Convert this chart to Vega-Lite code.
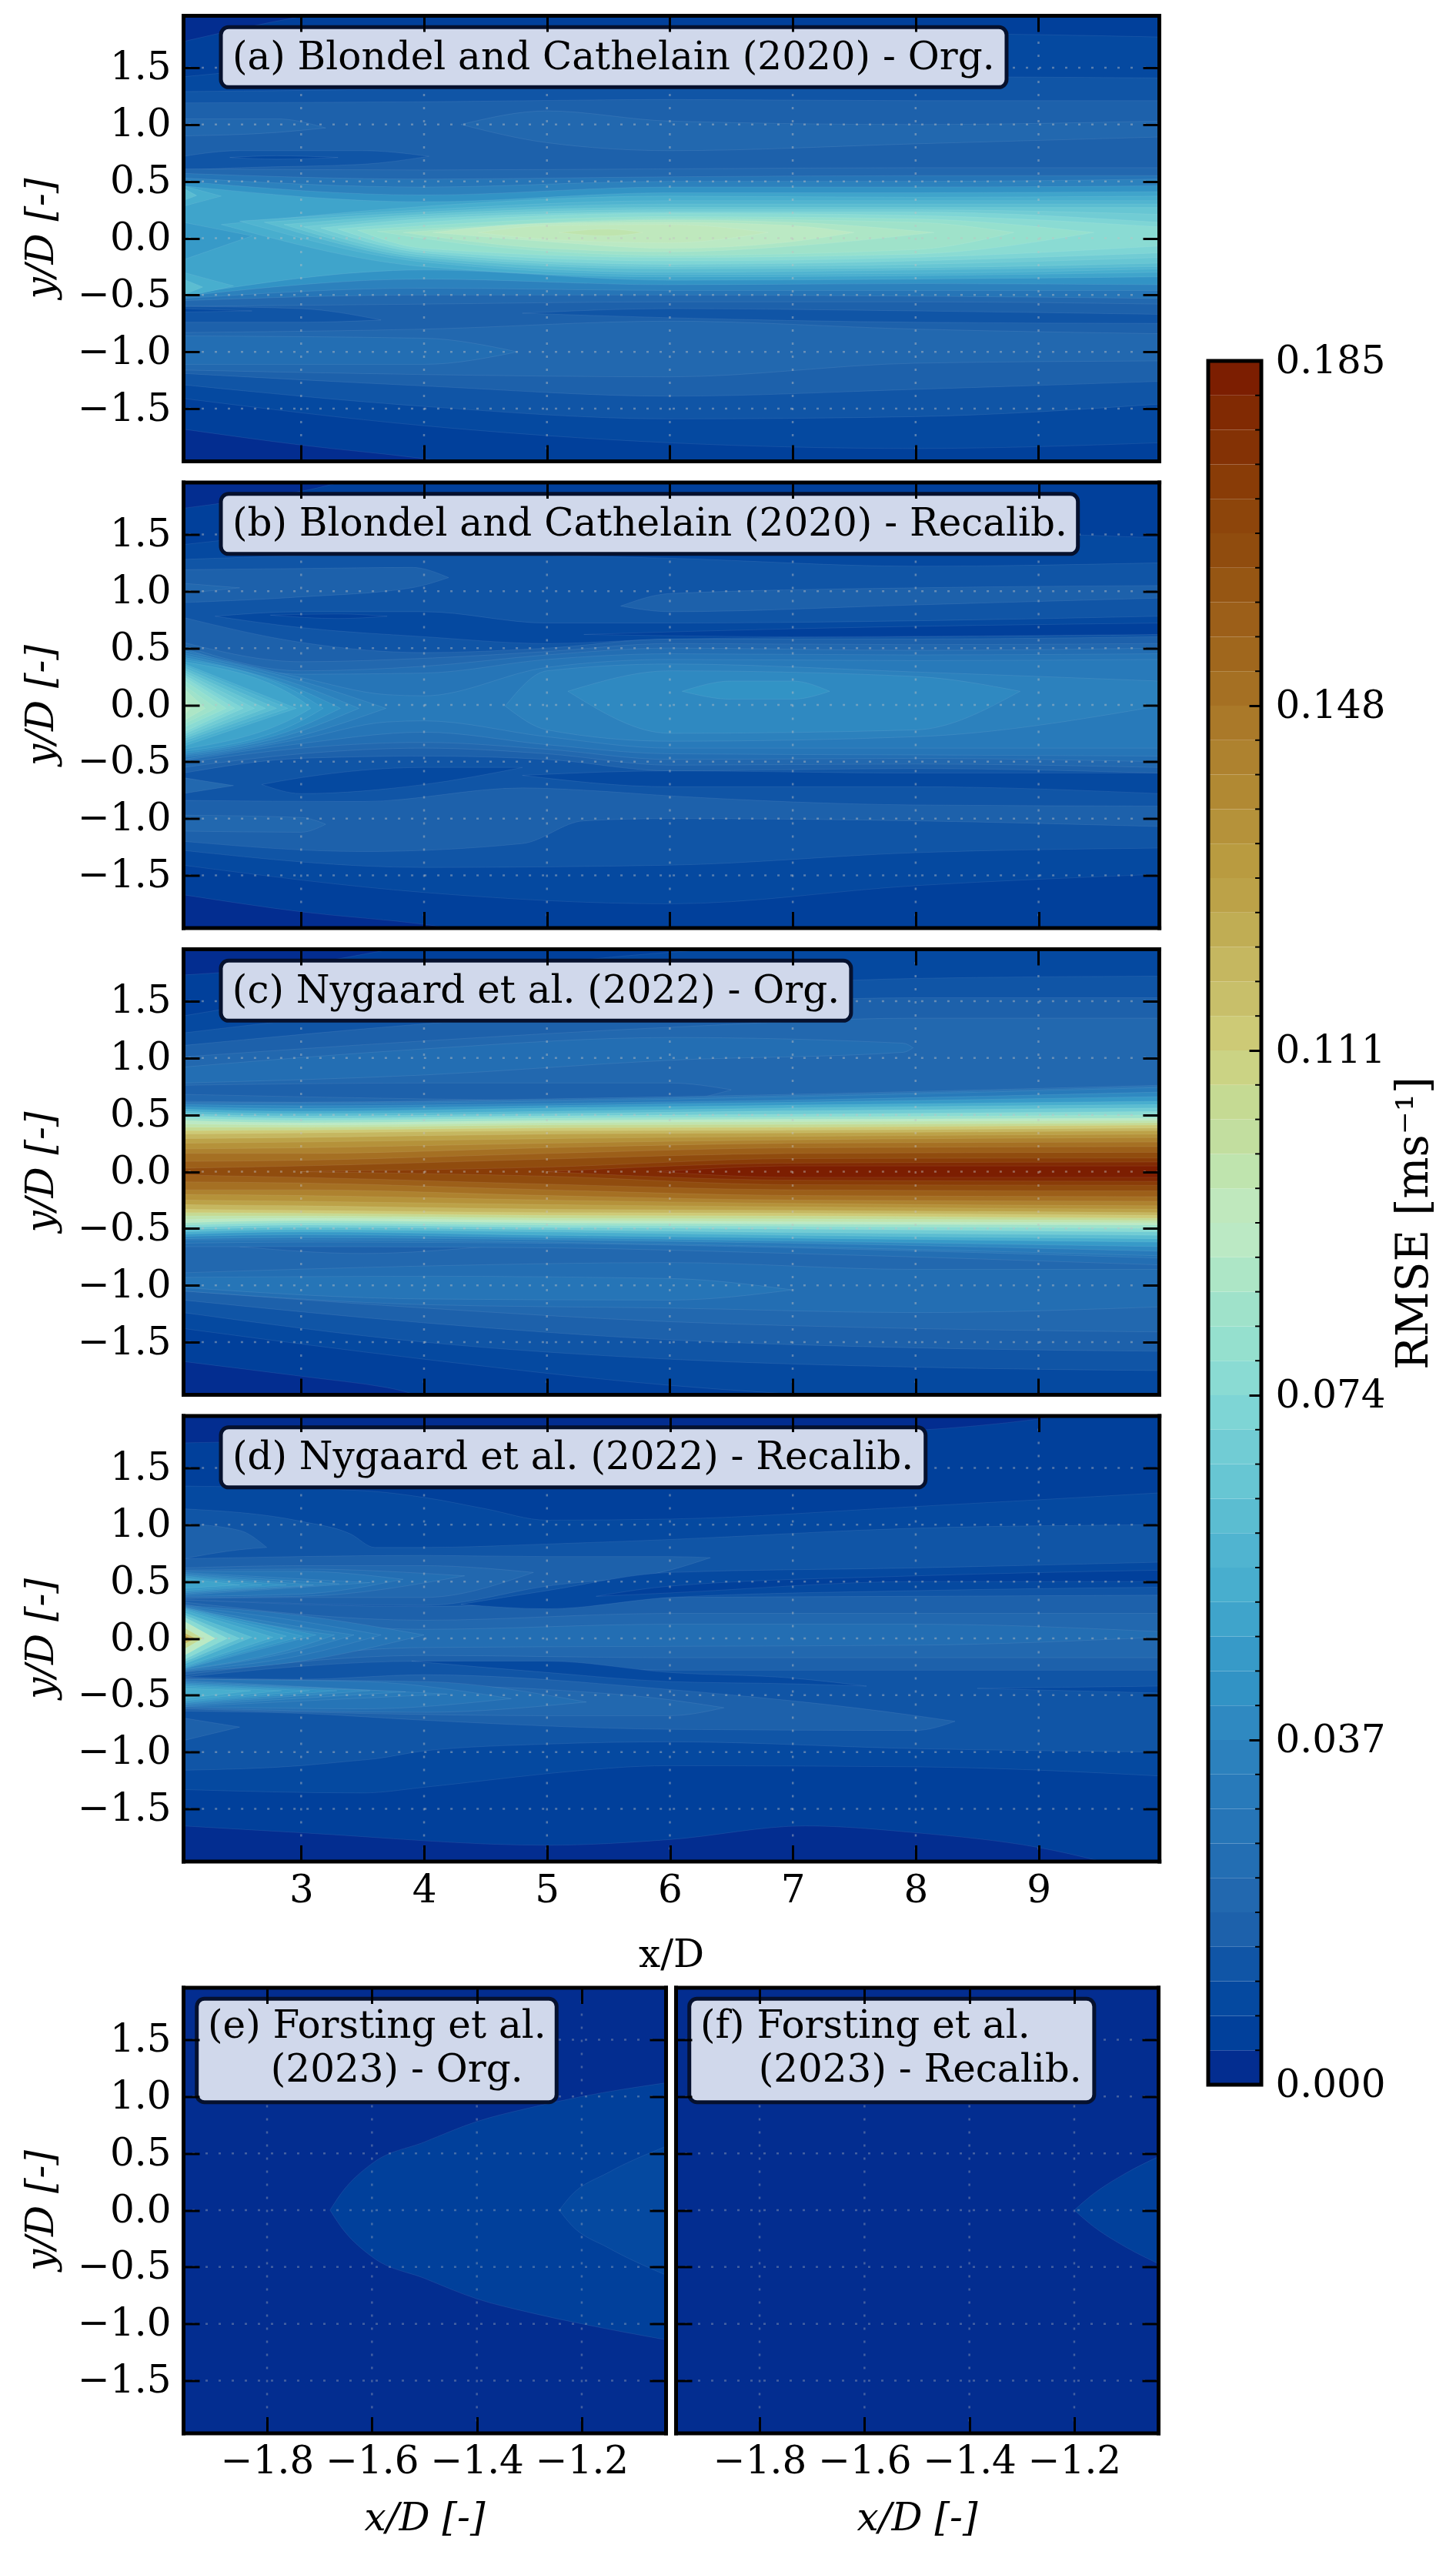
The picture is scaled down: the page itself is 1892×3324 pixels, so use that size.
{"$schema":"https://vega.github.io/schema/vega-lite/v6.json","background":"white","padding":{"left":28,"top":18,"right":12,"bottom":12},
"config":{"view":{"stroke":null},"axis":{"domainColor":"black","domainWidth":5,"domainCap":"square","tickColor":"black","tickWidth":3,"tickSize":-21,"labelFont":"DejaVu Serif","labelFontSize":50,"titleFont":"DejaVu Serif","titleFontSize":50,"titleFontWeight":"normal","grid":false,"labelColor":"black","titleColor":"black","labelOverlap":false,"labelFlush":false,"labelBound":false}},
"datasets":{
"gx":[{"x":3},{"x":4},{"x":5},{"x":6},{"x":7},{"x":8},{"x":9}],
"gy":[{"y":-1.5},{"y":-1},{"y":-0.5},{"y":0},{"y":0.5},{"y":1},{"y":1.5}],
"gz":[{"x":-1.8},{"x":-1.6},{"x":-1.4},{"x":-1.2}],
"a":[
{"g":1,"v":0,"x":2.04,"y":2.1,"y2":-2.1},{"g":1,"v":0,"x":9.98,"y":2.1,"y2":-2.1},
{"g":2,"v":0.006,"x":2.04,"y":1.73,"y2":-1.68},{"g":2,"v":0.006,"x":3,"y":1.95,"y2":-1.82},{"g":2,"v":0.006,"x":4,"y":2.1,"y2":-1.94},{"g":2,"v":0.006,"x":5,"y":2.1,"y2":-2.1},{"g":2,"v":0.006,"x":9.98,"y":2.1,"y2":-2.1},
{"g":3,"v":0.009,"x":2.04,"y":1.42,"y2":-1.41},{"g":3,"v":0.009,"x":4,"y":1.6,"y2":-1.65},{"g":3,"v":0.009,"x":6,"y":1.7,"y2":-1.8},{"g":3,"v":0.009,"x":8,"y":1.8,"y2":-1.85},{"g":3,"v":0.009,"x":9.98,"y":1.77,"y2":-1.8},
{"g":4,"v":0.013,"x":2.04,"y":1.29,"y2":-1.29},{"g":4,"v":0.013,"x":4,"y":1.32,"y2":-1.48},{"g":4,"v":0.013,"x":6,"y":1.4,"y2":-1.59},{"g":4,"v":0.013,"x":8,"y":1.42,"y2":-1.57},{"g":4,"v":0.013,"x":9.98,"y":1.41,"y2":-1.46},
{"g":5,"v":0.017,"x":2.04,"y":1.19,"y2":-1.19},{"g":5,"v":0.017,"x":4,"y":1.2,"y2":-1.3},{"g":5,"v":0.017,"x":6,"y":1.22,"y2":-1.39},{"g":5,"v":0.017,"x":8,"y":1.21,"y2":-1.33},{"g":5,"v":0.017,"x":9.98,"y":1.21,"y2":-1.26},
{"g":6,"v":0.013,"x":2.04,"y":0.72,"y2":0.6},{"g":6,"v":0.013,"x":2.5,"y":0.77,"y2":0.62},{"g":6,"v":0.013,"x":3.5,"y":0.77,"y2":0.65},{"g":6,"v":0.013,"x":4.04,"y":0.72,"y2":0.72},
{"g":7,"v":0.009,"x":2.42,"y":0.71,"y2":0.71},{"g":7,"v":0.009,"x":2.8,"y":0.725,"y2":0.695},{"g":7,"v":0.009,"x":3.3,"y":0.71,"y2":0.71},
{"g":8,"v":0.013,"x":2.04,"y":-0.6,"y2":-0.74},{"g":8,"v":0.013,"x":3,"y":-0.62,"y2":-0.74},{"g":8,"v":0.013,"x":3.65,"y":-0.72,"y2":-0.72},
{"g":9,"v":0.009,"x":2.04,"y":-0.62,"y2":-0.65},{"g":9,"v":0.009,"x":2.6,"y":-0.64,"y2":-0.64},
{"g":10,"v":0.013,"x":4.8,"y":-0.66,"y2":-0.66},{"g":10,"v":0.013,"x":6,"y":-0.62,"y2":-0.7},{"g":10,"v":0.013,"x":8,"y":-0.64,"y2":-0.74},{"g":10,"v":0.013,"x":9.98,"y":-0.67,"y2":-0.75},
{"g":11,"v":0.02,"x":2.04,"y":1.05,"y2":0.9},{"g":11,"v":0.02,"x":2.8,"y":1.05,"y2":0.93},{"g":11,"v":0.02,"x":3.2,"y":0.97,"y2":0.97},
{"g":12,"v":0.02,"x":4.3,"y":1,"y2":1},{"g":12,"v":0.02,"x":5,"y":1.12,"y2":0.84},{"g":12,"v":0.02,"x":6,"y":1.03,"y2":0.77},{"g":12,"v":0.02,"x":8,"y":1,"y2":0.83},{"g":12,"v":0.02,"x":9.98,"y":1.03,"y2":0.89},
{"g":13,"v":0.02,"x":2.04,"y":-0.83,"y2":-1.16},{"g":13,"v":0.02,"x":4,"y":-0.8,"y2":-1.2},{"g":13,"v":0.02,"x":6,"y":-0.73,"y2":-1.22},{"g":13,"v":0.02,"x":8,"y":-0.8,"y2":-1.1},{"g":13,"v":0.02,"x":9.98,"y":-0.84,"y2":-1.08},
{"g":14,"v":0.024,"x":2.04,"y":-0.86,"y2":-1.11},{"g":14,"v":0.024,"x":4,"y":-0.88,"y2":-1.11},{"g":14,"v":0.024,"x":4.76,"y":-1,"y2":-1},
{"g":15,"v":0.02,"x":2.04,"y":0.61,"y2":-0.6},{"g":15,"v":0.02,"x":4,"y":0.6,"y2":-0.58},{"g":15,"v":0.02,"x":6,"y":0.61,"y2":-0.56},{"g":15,"v":0.02,"x":8,"y":0.62,"y2":-0.56},{"g":15,"v":0.02,"x":9.98,"y":0.62,"y2":-0.58},
{"g":16,"v":0.028,"x":2.04,"y":0.57,"y2":-0.55},{"g":16,"v":0.028,"x":4,"y":0.52,"y2":-0.5},{"g":16,"v":0.028,"x":6,"y":0.54,"y2":-0.5},{"g":16,"v":0.028,"x":8,"y":0.55,"y2":-0.51},{"g":16,"v":0.028,"x":9.98,"y":0.55,"y2":-0.53},
{"g":17,"v":0.035,"x":2.04,"y":0.53,"y2":-0.53},{"g":17,"v":0.035,"x":4,"y":0.45,"y2":-0.44},{"g":17,"v":0.035,"x":6,"y":0.5,"y2":-0.46},{"g":17,"v":0.035,"x":8,"y":0.5,"y2":-0.46},{"g":17,"v":0.035,"x":9.98,"y":0.52,"y2":-0.46},
{"g":18,"v":0.043,"x":2.04,"y":0.5,"y2":-0.51},{"g":18,"v":0.043,"x":4,"y":0.38,"y2":-0.36},{"g":18,"v":0.043,"x":6,"y":0.45,"y2":-0.41},{"g":18,"v":0.043,"x":8,"y":0.45,"y2":-0.4},{"g":18,"v":0.043,"x":9.98,"y":0.46,"y2":-0.41},
{"g":19,"v":0.05,"x":2.04,"y":0.46,"y2":-0.5},{"g":19,"v":0.05,"x":4,"y":0.32,"y2":-0.28},{"g":19,"v":0.05,"x":6,"y":0.4,"y2":-0.37},{"g":19,"v":0.05,"x":8,"y":0.4,"y2":-0.36},{"g":19,"v":0.05,"x":9.98,"y":0.41,"y2":-0.34},
{"g":20,"v":0.046,"x":2.04,"y":0.14,"y2":-0.19},{"g":20,"v":0.046,"x":2.6,"y":0.02,"y2":0.02},
{"g":21,"v":0.054,"x":2.04,"y":0.46,"y2":0.28},{"g":21,"v":0.054,"x":2.35,"y":0.37,"y2":0.37},
{"g":22,"v":0.061,"x":2.04,"y":0.44,"y2":0.33},{"g":22,"v":0.061,"x":2.15,"y":0.375,"y2":0.375},
{"g":23,"v":0.054,"x":2.04,"y":-0.3,"y2":-0.52},{"g":23,"v":0.054,"x":2.45,"y":-0.42,"y2":-0.42},
{"g":24,"v":0.061,"x":2.04,"y":-0.36,"y2":-0.5},{"g":24,"v":0.061,"x":2.2,"y":-0.43,"y2":-0.43},
{"g":25,"v":0.054,"x":2.35,"y":0.12,"y2":0.12},{"g":25,"v":0.054,"x":4,"y":0.28,"y2":-0.25},{"g":25,"v":0.054,"x":6,"y":0.37,"y2":-0.34},{"g":25,"v":0.054,"x":8,"y":0.36,"y2":-0.33},{"g":25,"v":0.054,"x":9.98,"y":0.37,"y2":-0.3},
{"g":26,"v":0.057,"x":2.5,"y":0.15,"y2":0.15},{"g":26,"v":0.057,"x":4,"y":0.25,"y2":-0.21},{"g":26,"v":0.057,"x":6,"y":0.33,"y2":-0.32},{"g":26,"v":0.057,"x":8,"y":0.33,"y2":-0.31},{"g":26,"v":0.057,"x":9.98,"y":0.33,"y2":-0.27},
{"g":27,"v":0.061,"x":2.7,"y":0.14,"y2":0.14},{"g":27,"v":0.061,"x":4,"y":0.23,"y2":-0.19},{"g":27,"v":0.061,"x":6,"y":0.3,"y2":-0.3},{"g":27,"v":0.061,"x":8,"y":0.3,"y2":-0.28},{"g":27,"v":0.061,"x":9.98,"y":0.3,"y2":-0.25},
{"g":28,"v":0.065,"x":2.86,"y":0.12,"y2":0.12},{"g":28,"v":0.065,"x":4,"y":0.21,"y2":-0.17},{"g":28,"v":0.065,"x":6,"y":0.27,"y2":-0.27},{"g":28,"v":0.065,"x":8,"y":0.27,"y2":-0.26},{"g":28,"v":0.065,"x":9.98,"y":0.27,"y2":-0.22},
{"g":29,"v":0.068,"x":3.02,"y":0.1,"y2":0.1},{"g":29,"v":0.068,"x":4,"y":0.19,"y2":-0.15},{"g":29,"v":0.068,"x":6,"y":0.25,"y2":-0.25},{"g":29,"v":0.068,"x":8,"y":0.25,"y2":-0.23},{"g":29,"v":0.068,"x":9.98,"y":0.21,"y2":-0.17},
{"g":30,"v":0.072,"x":3.16,"y":0.09,"y2":0.09},{"g":30,"v":0.072,"x":4,"y":0.17,"y2":-0.13},{"g":30,"v":0.072,"x":6,"y":0.23,"y2":-0.23},{"g":30,"v":0.072,"x":8,"y":0.23,"y2":-0.2},{"g":30,"v":0.072,"x":9.98,"y":0.14,"y2":-0.13},
{"g":31,"v":0.076,"x":3.3,"y":0.08,"y2":0.08},{"g":31,"v":0.076,"x":4,"y":0.14,"y2":-0.11},{"g":31,"v":0.076,"x":6,"y":0.22,"y2":-0.2},{"g":31,"v":0.076,"x":8,"y":0.2,"y2":-0.17},{"g":31,"v":0.076,"x":9.98,"y":0.1,"y2":-0.07},
{"g":32,"v":0.08,"x":3.46,"y":0.07,"y2":0.07},{"g":32,"v":0.08,"x":4,"y":0.11,"y2":-0.09},{"g":32,"v":0.08,"x":6,"y":0.19,"y2":-0.17},{"g":32,"v":0.08,"x":8,"y":0.17,"y2":-0.14},{"g":32,"v":0.08,"x":9.45,"y":0.05,"y2":0.05},
{"g":33,"v":0.083,"x":3.62,"y":0.06,"y2":0.06},{"g":33,"v":0.083,"x":4.5,"y":0.11,"y2":-0.07},{"g":33,"v":0.083,"x":6,"y":0.17,"y2":-0.15},{"g":33,"v":0.083,"x":8,"y":0.14,"y2":-0.1},{"g":33,"v":0.083,"x":8.8,"y":0.05,"y2":0.05},
{"g":34,"v":0.087,"x":3.83,"y":0.05,"y2":0.05},{"g":34,"v":0.087,"x":5,"y":0.13,"y2":-0.09},{"g":34,"v":0.087,"x":6,"y":0.16,"y2":-0.12},{"g":34,"v":0.087,"x":7,"y":0.14,"y2":-0.07},{"g":34,"v":0.087,"x":8.15,"y":0.05,"y2":0.05},
{"g":35,"v":0.091,"x":4.07,"y":0.05,"y2":0.05},{"g":35,"v":0.091,"x":5,"y":0.13,"y2":-0.03},{"g":35,"v":0.091,"x":6,"y":0.14,"y2":-0.09},{"g":35,"v":0.091,"x":7,"y":0.11,"y2":-0.03},{"g":35,"v":0.091,"x":7.5,"y":0.05,"y2":0.05},
{"g":36,"v":0.094,"x":4.44,"y":0.05,"y2":0.05},{"g":36,"v":0.094,"x":5,"y":0.11,"y2":-0.01},{"g":36,"v":0.094,"x":6,"y":0.12,"y2":-0.04},{"g":36,"v":0.094,"x":6.8,"y":0.05,"y2":0.05},
{"g":37,"v":0.098,"x":5.1,"y":0.05,"y2":0.05},{"g":37,"v":0.098,"x":5.5,"y":0.08,"y2":0.02},{"g":37,"v":0.098,"x":5.78,"y":0.05,"y2":0.05}
],
"b":[
{"g":1,"v":0,"x":2.04,"y":2.1,"y2":-2.1},{"g":1,"v":0,"x":9.98,"y":2.1,"y2":-2.1},
{"g":2,"v":0.006,"x":2.04,"y":1.73,"y2":-1.67},{"g":2,"v":0.006,"x":3,"y":1.88,"y2":-1.82},{"g":2,"v":0.006,"x":4,"y":2.1,"y2":-1.93},{"g":2,"v":0.006,"x":5,"y":2.1,"y2":-2.1},{"g":2,"v":0.006,"x":9.98,"y":2.1,"y2":-2.1},
{"g":3,"v":0.009,"x":2.04,"y":1.41,"y2":-1.41},{"g":3,"v":0.009,"x":4,"y":1.6,"y2":-1.65},{"g":3,"v":0.009,"x":6,"y":1.65,"y2":-1.75},{"g":3,"v":0.009,"x":8,"y":1.55,"y2":-1.59},{"g":3,"v":0.009,"x":9.98,"y":1.47,"y2":-1.49},
{"g":4,"v":0.013,"x":2.04,"y":1.28,"y2":-1.28},{"g":4,"v":0.013,"x":4,"y":1.33,"y2":-1.43},{"g":4,"v":0.013,"x":6,"y":1.29,"y2":-1.41},{"g":4,"v":0.013,"x":8,"y":1.22,"y2":-1.3},{"g":4,"v":0.013,"x":9.98,"y":1.25,"y2":-1.26},
{"g":5,"v":0.017,"x":2.04,"y":1.19,"y2":0.9},{"g":5,"v":0.017,"x":3,"y":1.2,"y2":0.95},{"g":5,"v":0.017,"x":3.9,"y":1.21,"y2":1.03},{"g":5,"v":0.017,"x":4.2,"y":1.12,"y2":1.12},
{"g":6,"v":0.02,"x":2.04,"y":1.07,"y2":0.98},{"g":6,"v":0.02,"x":2.5,"y":1.03,"y2":1.03},
{"g":7,"v":0.017,"x":5.6,"y":0.87,"y2":0.87},{"g":7,"v":0.017,"x":6,"y":0.98,"y2":0.82},{"g":7,"v":0.017,"x":8,"y":1.03,"y2":0.88},{"g":7,"v":0.017,"x":9.98,"y":1.05,"y2":0.94},
{"g":8,"v":0.017,"x":2.04,"y":-0.84,"y2":-1.2},{"g":8,"v":0.017,"x":3.5,"y":-0.85,"y2":-1.29},{"g":8,"v":0.017,"x":4.8,"y":-0.73,"y2":-1.22},{"g":8,"v":0.017,"x":5.3,"y":-0.75,"y2":-1.02},{"g":8,"v":0.017,"x":6,"y":-0.8,"y2":-1},{"g":8,"v":0.017,"x":8,"y":-0.88,"y2":-1.02},{"g":8,"v":0.017,"x":9.98,"y":-0.89,"y2":-1.07},
{"g":9,"v":0.02,"x":2.04,"y":-0.97,"y2":-1.11},{"g":9,"v":0.02,"x":3,"y":-0.99,"y2":-1.12},{"g":9,"v":0.02,"x":3.2,"y":-1.05,"y2":-1.05},
{"g":10,"v":0.02,"x":2.04,"y":-0.64,"y2":-0.78},{"g":10,"v":0.02,"x":2.45,"y":-0.71,"y2":-0.71},
{"g":11,"v":0.009,"x":2.3,"y":0.78,"y2":0.78},{"g":11,"v":0.009,"x":3,"y":0.82,"y2":0.68},{"g":11,"v":0.009,"x":4,"y":0.82,"y2":0.6},{"g":11,"v":0.009,"x":5,"y":0.72,"y2":0.54},{"g":11,"v":0.009,"x":6,"y":0.72,"y2":0.58},{"g":11,"v":0.009,"x":8,"y":0.74,"y2":0.6},{"g":11,"v":0.009,"x":9.98,"y":0.78,"y2":0.62},
{"g":12,"v":0.006,"x":2.75,"y":0.79,"y2":0.79},{"g":12,"v":0.006,"x":3.3,"y":0.8,"y2":0.76},{"g":12,"v":0.006,"x":3.7,"y":0.78,"y2":0.78},
{"g":13,"v":0.006,"x":5.3,"y":0.62,"y2":0.62},{"g":13,"v":0.006,"x":7,"y":0.67,"y2":0.6},{"g":13,"v":0.006,"x":9.98,"y":0.72,"y2":0.62},
{"g":14,"v":0.009,"x":2.68,"y":-0.7,"y2":-0.7},{"g":14,"v":0.009,"x":3,"y":-0.64,"y2":-0.78},{"g":14,"v":0.009,"x":4,"y":-0.55,"y2":-0.7},{"g":14,"v":0.009,"x":4.8,"y":-0.55,"y2":-0.55},
{"g":15,"v":0.009,"x":4.8,"y":-0.62,"y2":-0.62},{"g":15,"v":0.009,"x":6,"y":-0.58,"y2":-0.72},{"g":15,"v":0.009,"x":8,"y":-0.6,"y2":-0.72},{"g":15,"v":0.009,"x":9.98,"y":-0.6,"y2":-0.78},
{"g":17,"v":0.017,"x":2.04,"y":0.77,"y2":-0.6},{"g":17,"v":0.017,"x":3,"y":0.55,"y2":-0.47},{"g":17,"v":0.017,"x":4,"y":0.46,"y2":-0.45},{"g":17,"v":0.017,"x":5,"y":0.5,"y2":-0.48},{"g":17,"v":0.017,"x":6,"y":0.58,"y2":-0.58},{"g":17,"v":0.017,"x":8,"y":0.58,"y2":-0.56},{"g":17,"v":0.017,"x":9.98,"y":0.6,"y2":-0.6},
{"g":18,"v":0.02,"x":2.04,"y":0.55,"y2":-0.55},{"g":18,"v":0.02,"x":3,"y":0.38,"y2":-0.43},{"g":18,"v":0.02,"x":4,"y":0.41,"y2":-0.38},{"g":18,"v":0.02,"x":5,"y":0.47,"y2":-0.43},{"g":18,"v":0.02,"x":6,"y":0.54,"y2":-0.53},{"g":18,"v":0.02,"x":8,"y":0.53,"y2":-0.52},{"g":18,"v":0.02,"x":9.98,"y":0.54,"y2":-0.55},
{"g":19,"v":0.024,"x":2.04,"y":0.52,"y2":-0.51},{"g":19,"v":0.024,"x":3,"y":0.3,"y2":-0.38},{"g":19,"v":0.024,"x":4,"y":0.34,"y2":-0.33},{"g":19,"v":0.024,"x":5,"y":0.44,"y2":-0.39},{"g":19,"v":0.024,"x":6,"y":0.5,"y2":-0.48},{"g":19,"v":0.024,"x":8,"y":0.48,"y2":-0.47},{"g":19,"v":0.024,"x":9.98,"y":0.5,"y2":-0.5},
{"g":20,"v":0.028,"x":2.04,"y":0.5,"y2":-0.49},{"g":20,"v":0.028,"x":3,"y":0.27,"y2":-0.34},{"g":20,"v":0.028,"x":4,"y":0.28,"y2":-0.24},{"g":20,"v":0.028,"x":5,"y":0.4,"y2":-0.35},{"g":20,"v":0.028,"x":6,"y":0.45,"y2":-0.43},{"g":20,"v":0.028,"x":8,"y":0.44,"y2":-0.44},{"g":20,"v":0.028,"x":9.98,"y":0.45,"y2":-0.45},
{"g":21,"v":0.031,"x":2.04,"y":0.48,"y2":-0.48},{"g":21,"v":0.031,"x":3,"y":0.24,"y2":-0.3},{"g":21,"v":0.031,"x":3.7,"y":0.09,"y2":-0.15},{"g":21,"v":0.031,"x":4,"y":0.08,"y2":-0.14},{"g":21,"v":0.031,"x":5,"y":0.33,"y2":-0.28},{"g":21,"v":0.031,"x":6,"y":0.4,"y2":-0.38},{"g":21,"v":0.031,"x":8,"y":0.39,"y2":-0.38},{"g":21,"v":0.031,"x":9.98,"y":0.4,"y2":-0.38},
{"g":22,"v":0.035,"x":2.04,"y":0.46,"y2":-0.46},{"g":22,"v":0.035,"x":3,"y":0.21,"y2":-0.27},{"g":22,"v":0.035,"x":3.69,"y":-0.03,"y2":-0.03},
{"g":23,"v":0.035,"x":4.66,"y":-0.01,"y2":-0.01},{"g":23,"v":0.035,"x":5,"y":0.3,"y2":-0.22},{"g":23,"v":0.035,"x":6,"y":0.36,"y2":-0.32},{"g":23,"v":0.035,"x":8,"y":0.29,"y2":-0.28},{"g":23,"v":0.035,"x":9.98,"y":0.21,"y2":-0.01},
{"g":24,"v":0.039,"x":5.17,"y":0.12,"y2":0.12},{"g":24,"v":0.039,"x":6,"y":0.3,"y2":-0.25},{"g":24,"v":0.039,"x":8,"y":0.25,"y2":-0.22},{"g":24,"v":0.039,"x":8.85,"y":0.12,"y2":0.12},
{"g":25,"v":0.043,"x":6.1,"y":0.12,"y2":0.12},{"g":25,"v":0.043,"x":6.5,"y":0.21,"y2":0.05},{"g":25,"v":0.043,"x":7,"y":0.21,"y2":0.05},{"g":25,"v":0.043,"x":7.3,"y":0.12,"y2":0.12},
{"g":26,"v":0.039,"x":2.04,"y":0.44,"y2":-0.445},{"g":26,"v":0.039,"x":3,"y":0.17,"y2":-0.23},{"g":26,"v":0.039,"x":3.47,"y":-0.03,"y2":-0.03},
{"g":27,"v":0.043,"x":2.04,"y":0.42,"y2":-0.43},{"g":27,"v":0.043,"x":3,"y":0.13,"y2":-0.19},{"g":27,"v":0.043,"x":3.32,"y":-0.03,"y2":-0.03},
{"g":28,"v":0.046,"x":2.04,"y":0.4,"y2":-0.41},{"g":28,"v":0.046,"x":3,"y":0.09,"y2":-0.14},{"g":28,"v":0.046,"x":3.18,"y":-0.03,"y2":-0.03},
{"g":29,"v":0.05,"x":2.04,"y":0.38,"y2":-0.39},{"g":29,"v":0.05,"x":3,"y":0.04,"y2":-0.08},{"g":29,"v":0.05,"x":3.08,"y":-0.03,"y2":-0.03},
{"g":30,"v":0.054,"x":2.04,"y":0.365,"y2":-0.365},{"g":30,"v":0.054,"x":2.96,"y":-0.03,"y2":-0.03},
{"g":31,"v":0.057,"x":2.04,"y":0.35,"y2":-0.34},{"g":31,"v":0.057,"x":2.89,"y":-0.03,"y2":-0.03},
{"g":32,"v":0.061,"x":2.04,"y":0.33,"y2":-0.32},{"g":32,"v":0.061,"x":2.8,"y":-0.03,"y2":-0.03},
{"g":33,"v":0.065,"x":2.04,"y":0.31,"y2":-0.3},{"g":33,"v":0.065,"x":2.71,"y":-0.03,"y2":-0.03},
{"g":34,"v":0.068,"x":2.04,"y":0.29,"y2":-0.28},{"g":34,"v":0.068,"x":2.62,"y":-0.03,"y2":-0.03},
{"g":35,"v":0.072,"x":2.04,"y":0.27,"y2":-0.26},{"g":35,"v":0.072,"x":2.53,"y":-0.03,"y2":-0.03},
{"g":36,"v":0.076,"x":2.04,"y":0.25,"y2":-0.24},{"g":36,"v":0.076,"x":2.46,"y":-0.03,"y2":-0.03},
{"g":37,"v":0.08,"x":2.04,"y":0.22,"y2":-0.2},{"g":37,"v":0.08,"x":2.39,"y":-0.03,"y2":-0.03},
{"g":38,"v":0.083,"x":2.04,"y":0.18,"y2":-0.17},{"g":38,"v":0.083,"x":2.31,"y":-0.03,"y2":-0.03},
{"g":39,"v":0.087,"x":2.04,"y":0.15,"y2":-0.14},{"g":39,"v":0.087,"x":2.22,"y":-0.03,"y2":-0.03},
{"g":40,"v":0.091,"x":2.04,"y":0.08,"y2":-0.1},{"g":40,"v":0.091,"x":2.1,"y":-0.03,"y2":-0.03}
],
"c":[
{"g":1,"v":0,"x":2.04,"y":2.1,"y2":-2.1},{"g":1,"v":0,"x":9.98,"y":2.1,"y2":-2.1},
{"g":2,"v":0.006,"x":2.04,"y":1.73,"y2":-1.67},{"g":2,"v":0.006,"x":3,"y":1.82,"y2":-1.8},{"g":2,"v":0.006,"x":3.7,"y":1.95,"y2":-1.9},{"g":2,"v":0.006,"x":4.5,"y":2.1,"y2":-2.1},{"g":2,"v":0.006,"x":9.98,"y":2.1,"y2":-2.1},
{"g":3,"v":0.009,"x":2.04,"y":1.37,"y2":-1.38},{"g":3,"v":0.009,"x":4,"y":1.7,"y2":-1.65},{"g":3,"v":0.009,"x":6,"y":1.93,"y2":-1.88},{"g":3,"v":0.009,"x":7.7,"y":2.02,"y2":-2},{"g":3,"v":0.009,"x":9.98,"y":2.1,"y2":-2.1},
{"g":4,"v":0.013,"x":2.04,"y":1.22,"y2":-1.24},{"g":4,"v":0.013,"x":4,"y":1.45,"y2":-1.5},{"g":4,"v":0.013,"x":6,"y":1.6,"y2":-1.65},{"g":4,"v":0.013,"x":8,"y":1.7,"y2":-1.72},{"g":4,"v":0.013,"x":9.98,"y":1.72,"y2":-1.75},
{"g":5,"v":0.017,"x":2.04,"y":1.11,"y2":-1.13},{"g":5,"v":0.017,"x":4,"y":1.3,"y2":-1.33},{"g":5,"v":0.017,"x":6,"y":1.45,"y2":-1.48},{"g":5,"v":0.017,"x":8,"y":1.53,"y2":-1.55},{"g":5,"v":0.017,"x":9.98,"y":1.53,"y2":-1.58},
{"g":6,"v":0.02,"x":2.04,"y":1.01,"y2":-1.05},{"g":6,"v":0.02,"x":4,"y":1.15,"y2":-1.2},{"g":6,"v":0.02,"x":6,"y":1.27,"y2":-1.32},{"g":6,"v":0.02,"x":8,"y":1.35,"y2":-1.38},{"g":6,"v":0.02,"x":9.98,"y":1.35,"y2":-1.41},
{"g":7,"v":0.017,"x":2.04,"y":0.76,"y2":0.68},{"g":7,"v":0.017,"x":4,"y":0.78,"y2":0.64},{"g":7,"v":0.017,"x":6,"y":0.78,"y2":0.62},{"g":7,"v":0.017,"x":6.5,"y":0.72,"y2":0.72},
{"g":8,"v":0.017,"x":2.5,"y":-0.66,"y2":-0.66},{"g":8,"v":0.017,"x":3.5,"y":-0.64,"y2":-0.72},{"g":8,"v":0.017,"x":4.5,"y":-0.66,"y2":-0.66},
{"g":9,"v":0.024,"x":2.04,"y":0.92,"y2":0.78},{"g":9,"v":0.024,"x":4,"y":1.08,"y2":0.85},{"g":9,"v":0.024,"x":6,"y":1.18,"y2":0.98},{"g":9,"v":0.024,"x":7.9,"y":1.13,"y2":1.05},{"g":9,"v":0.024,"x":7.98,"y":1.09,"y2":1.09},
{"g":10,"v":0.024,"x":2.04,"y":-0.89,"y2":-1.05},{"g":10,"v":0.024,"x":4,"y":-0.83,"y2":-1.17},{"g":10,"v":0.024,"x":6,"y":-0.8,"y2":-1.2},{"g":10,"v":0.024,"x":8,"y":-0.86,"y2":-1.24},{"g":10,"v":0.024,"x":9.98,"y":-0.86,"y2":-1.19},
{"g":11,"v":0.028,"x":2.04,"y":-0.93,"y2":-1.02},{"g":11,"v":0.028,"x":4,"y":-0.92,"y2":-1.12},{"g":11,"v":0.028,"x":6,"y":-0.94,"y2":-1.13},{"g":11,"v":0.028,"x":7,"y":-1.04,"y2":-1.04},
{"g":12,"v":0.024,"x":2.04,"y":0.62,"y2":-0.66},{"g":12,"v":0.024,"x":3,"y":0.61,"y2":-0.66},{"g":12,"v":0.024,"x":5,"y":0.64,"y2":-0.67},{"g":12,"v":0.024,"x":7,"y":0.68,"y2":-0.72},{"g":12,"v":0.024,"x":9.98,"y":0.76,"y2":-0.82},
{"g":13,"v":0.028,"x":2.04,"y":0.61,"y2":-0.63},{"g":13,"v":0.028,"x":3,"y":0.61,"y2":-0.62},{"g":13,"v":0.028,"x":5,"y":0.63,"y2":-0.63},{"g":13,"v":0.028,"x":7,"y":0.67,"y2":-0.67},{"g":13,"v":0.028,"x":9.98,"y":0.75,"y2":-0.76},
{"g":14,"v":0.031,"x":2.04,"y":0.6,"y2":-0.6},{"g":14,"v":0.031,"x":3,"y":0.6,"y2":-0.6},{"g":14,"v":0.031,"x":5,"y":0.62,"y2":-0.62},{"g":14,"v":0.031,"x":7,"y":0.66,"y2":-0.66},{"g":14,"v":0.031,"x":9.98,"y":0.74,"y2":-0.74},
{"g":15,"v":0.039,"x":2.04,"y":0.59,"y2":-0.59},{"g":15,"v":0.039,"x":3,"y":0.58,"y2":-0.58},{"g":15,"v":0.039,"x":5,"y":0.6,"y2":-0.6},{"g":15,"v":0.039,"x":7,"y":0.63,"y2":-0.63},{"g":15,"v":0.039,"x":9.98,"y":0.7,"y2":-0.7},
{"g":16,"v":0.046,"x":2.04,"y":0.57,"y2":-0.57},{"g":16,"v":0.046,"x":3,"y":0.555,"y2":-0.555},{"g":16,"v":0.046,"x":5,"y":0.58,"y2":-0.58},{"g":16,"v":0.046,"x":7,"y":0.61,"y2":-0.61},{"g":16,"v":0.046,"x":9.98,"y":0.66,"y2":-0.66},
{"g":17,"v":0.054,"x":2.04,"y":0.55,"y2":-0.55},{"g":17,"v":0.054,"x":3,"y":0.53,"y2":-0.53},{"g":17,"v":0.054,"x":5,"y":0.56,"y2":-0.56},{"g":17,"v":0.054,"x":7,"y":0.585,"y2":-0.585},{"g":17,"v":0.054,"x":9.98,"y":0.62,"y2":-0.62},
{"g":18,"v":0.061,"x":2.04,"y":0.53,"y2":-0.53},{"g":18,"v":0.061,"x":3,"y":0.51,"y2":-0.51},{"g":18,"v":0.061,"x":5,"y":0.53,"y2":-0.53},{"g":18,"v":0.061,"x":7,"y":0.56,"y2":-0.56},{"g":18,"v":0.061,"x":9.98,"y":0.59,"y2":-0.59},
{"g":19,"v":0.068,"x":2.04,"y":0.51,"y2":-0.51},{"g":19,"v":0.068,"x":3,"y":0.49,"y2":-0.49},{"g":19,"v":0.068,"x":5,"y":0.51,"y2":-0.51},{"g":19,"v":0.068,"x":7,"y":0.535,"y2":-0.535},{"g":19,"v":0.068,"x":9.98,"y":0.56,"y2":-0.56},
{"g":20,"v":0.076,"x":2.04,"y":0.49,"y2":-0.49},{"g":20,"v":0.076,"x":3,"y":0.47,"y2":-0.47},{"g":20,"v":0.076,"x":5,"y":0.49,"y2":-0.49},{"g":20,"v":0.076,"x":7,"y":0.505,"y2":-0.505},{"g":20,"v":0.076,"x":9.98,"y":0.53,"y2":-0.53},
{"g":21,"v":0.083,"x":2.04,"y":0.47,"y2":-0.47},{"g":21,"v":0.083,"x":3,"y":0.45,"y2":-0.45},{"g":21,"v":0.083,"x":5,"y":0.47,"y2":-0.47},{"g":21,"v":0.083,"x":7,"y":0.48,"y2":-0.48},{"g":21,"v":0.083,"x":9.98,"y":0.5,"y2":-0.5},
{"g":22,"v":0.091,"x":2.04,"y":0.45,"y2":-0.45},{"g":22,"v":0.091,"x":3,"y":0.43,"y2":-0.43},{"g":22,"v":0.091,"x":5,"y":0.45,"y2":-0.45},{"g":22,"v":0.091,"x":7,"y":0.46,"y2":-0.46},{"g":22,"v":0.091,"x":9.98,"y":0.47,"y2":-0.47},
{"g":23,"v":0.098,"x":2.04,"y":0.42,"y2":-0.42},{"g":23,"v":0.098,"x":3,"y":0.41,"y2":-0.41},{"g":23,"v":0.098,"x":5,"y":0.43,"y2":-0.43},{"g":23,"v":0.098,"x":7,"y":0.44,"y2":-0.44},{"g":23,"v":0.098,"x":9.98,"y":0.45,"y2":-0.45},
{"g":24,"v":0.105,"x":2.04,"y":0.39,"y2":-0.39},{"g":24,"v":0.105,"x":3,"y":0.39,"y2":-0.39},{"g":24,"v":0.105,"x":5,"y":0.41,"y2":-0.41},{"g":24,"v":0.105,"x":7,"y":0.415,"y2":-0.415},{"g":24,"v":0.105,"x":9.98,"y":0.43,"y2":-0.43},
{"g":25,"v":0.113,"x":2.04,"y":0.36,"y2":-0.36},{"g":25,"v":0.113,"x":3,"y":0.365,"y2":-0.365},{"g":25,"v":0.113,"x":5,"y":0.385,"y2":-0.385},{"g":25,"v":0.113,"x":7,"y":0.39,"y2":-0.39},{"g":25,"v":0.113,"x":9.98,"y":0.41,"y2":-0.41},
{"g":26,"v":0.12,"x":2.04,"y":0.33,"y2":-0.33},{"g":26,"v":0.12,"x":3,"y":0.34,"y2":-0.34},{"g":26,"v":0.12,"x":5,"y":0.36,"y2":-0.36},{"g":26,"v":0.12,"x":7,"y":0.365,"y2":-0.365},{"g":26,"v":0.12,"x":9.98,"y":0.385,"y2":-0.385},
{"g":27,"v":0.128,"x":2.04,"y":0.29,"y2":-0.29},{"g":27,"v":0.128,"x":3,"y":0.3,"y2":-0.3},{"g":27,"v":0.128,"x":5,"y":0.33,"y2":-0.33},{"g":27,"v":0.128,"x":7,"y":0.34,"y2":-0.34},{"g":27,"v":0.128,"x":9.98,"y":0.36,"y2":-0.36},
{"g":28,"v":0.135,"x":2.04,"y":0.25,"y2":-0.25},{"g":28,"v":0.135,"x":3,"y":0.26,"y2":-0.26},{"g":28,"v":0.135,"x":5,"y":0.29,"y2":-0.29},{"g":28,"v":0.135,"x":7,"y":0.31,"y2":-0.31},{"g":28,"v":0.135,"x":9.98,"y":0.33,"y2":-0.33},
{"g":29,"v":0.142,"x":2.04,"y":0.2,"y2":-0.2},{"g":29,"v":0.142,"x":3,"y":0.21,"y2":-0.21},{"g":29,"v":0.142,"x":5,"y":0.25,"y2":-0.25},{"g":29,"v":0.142,"x":7,"y":0.28,"y2":-0.28},{"g":29,"v":0.142,"x":9.98,"y":0.3,"y2":-0.3},
{"g":30,"v":0.15,"x":2.04,"y":0.16,"y2":-0.16},{"g":30,"v":0.15,"x":3,"y":0.16,"y2":-0.16},{"g":30,"v":0.15,"x":5,"y":0.21,"y2":-0.21},{"g":30,"v":0.15,"x":7,"y":0.25,"y2":-0.25},{"g":30,"v":0.15,"x":9.98,"y":0.26,"y2":-0.26},
{"g":31,"v":0.157,"x":2.04,"y":0.09,"y2":-0.09},{"g":31,"v":0.157,"x":3,"y":0.1,"y2":-0.1},{"g":31,"v":0.157,"x":5,"y":0.16,"y2":-0.16},{"g":31,"v":0.157,"x":7,"y":0.21,"y2":-0.21},{"g":31,"v":0.157,"x":9.98,"y":0.22,"y2":-0.22},
{"g":32,"v":0.165,"x":2.04,"y":0.03,"y2":-0.03},{"g":32,"v":0.165,"x":3,"y":0.05,"y2":-0.05},{"g":32,"v":0.165,"x":5,"y":0.11,"y2":-0.11},{"g":32,"v":0.165,"x":7,"y":0.16,"y2":-0.16},{"g":32,"v":0.165,"x":9.98,"y":0.17,"y2":-0.17},
{"g":33,"v":0.172,"x":3,"y":0,"y2":0},{"g":33,"v":0.172,"x":5,"y":0.04,"y2":-0.04},{"g":33,"v":0.172,"x":7,"y":0.115,"y2":-0.115},{"g":33,"v":0.172,"x":9.98,"y":0.12,"y2":-0.12},
{"g":34,"v":0.179,"x":5,"y":0,"y2":0},{"g":34,"v":0.179,"x":7,"y":0.075,"y2":-0.075},{"g":34,"v":0.179,"x":9.98,"y":0.085,"y2":-0.085},
{"g":35,"v":0.183,"x":5.9,"y":0,"y2":0},{"g":35,"v":0.183,"x":7,"y":0.05,"y2":-0.05},{"g":35,"v":0.183,"x":9.98,"y":0.05,"y2":-0.05}
],
"d":[
{"g":1,"v":0,"x":2.04,"y":2.1,"y2":-2.1},{"g":1,"v":0,"x":9.98,"y":2.1,"y2":-2.1},
{"g":2,"v":0.006,"x":2.04,"y":1.72,"y2":-1.65},{"g":2,"v":0.006,"x":3,"y":1.74,"y2":-1.71},{"g":2,"v":0.006,"x":5,"y":1.78,"y2":-1.82},{"g":2,"v":0.006,"x":6,"y":1.8,"y2":-1.77},{"g":2,"v":0.006,"x":7.1,"y":1.8,"y2":-1.65},{"g":2,"v":0.006,"x":8,"y":1.83,"y2":-1.71},{"g":2,"v":0.006,"x":9,"y":1.93,"y2":-1.84},{"g":2,"v":0.006,"x":9.98,"y":2.1,"y2":-2.1},
{"g":3,"v":0.009,"x":2.04,"y":1.34,"y2":-1.33},{"g":3,"v":0.009,"x":3.5,"y":1.3,"y2":-1.36},{"g":3,"v":0.009,"x":4,"y":1.24,"y2":-1.31},{"g":3,"v":0.009,"x":4.5,"y":1.14,"y2":-1.25},{"g":3,"v":0.009,"x":5,"y":1.04,"y2":-1.19},{"g":3,"v":0.009,"x":6,"y":1.05,"y2":-1.12},{"g":3,"v":0.009,"x":8,"y":1.16,"y2":-1.13},{"g":3,"v":0.009,"x":9.98,"y":1.28,"y2":-1.21},
{"g":4,"v":0.013,"x":2.04,"y":1.14,"y2":-1.16},{"g":4,"v":0.013,"x":3,"y":1.03,"y2":-1.12},{"g":4,"v":0.013,"x":3.4,"y":0.92,"y2":-1.08},{"g":4,"v":0.013,"x":3.6,"y":0.8,"y2":-1.06},{"g":4,"v":0.013,"x":4,"y":0.8,"y2":-0.99},{"g":4,"v":0.013,"x":5,"y":0.83,"y2":-0.93},{"g":4,"v":0.013,"x":6,"y":0.87,"y2":-0.91},{"g":4,"v":0.013,"x":8,"y":0.97,"y2":-0.97},{"g":4,"v":0.013,"x":9.98,"y":1,"y2":-1},
{"g":5,"v":0.017,"x":2.04,"y":1.01,"y2":0.7},{"g":5,"v":0.017,"x":2.5,"y":0.95,"y2":0.78},{"g":5,"v":0.017,"x":2.72,"y":0.8,"y2":0.8},
{"g":6,"v":0.017,"x":2.04,"y":-0.7,"y2":-0.9},{"g":6,"v":0.017,"x":2.5,"y":-0.78,"y2":-0.78},
{"g":7,"v":0.017,"x":2.04,"y":0.34,"y2":-0.34},{"g":7,"v":0.017,"x":4,"y":0.28,"y2":-0.2},{"g":7,"v":0.017,"x":6,"y":0.36,"y2":-0.28},{"g":7,"v":0.017,"x":8,"y":0.37,"y2":-0.28},{"g":7,"v":0.017,"x":9.98,"y":0.38,"y2":-0.28},
{"g":8,"v":0.017,"x":2.04,"y":0.7,"y2":0.34},{"g":8,"v":0.017,"x":4,"y":0.73,"y2":0.29},{"g":8,"v":0.017,"x":5,"y":0.72,"y2":0.46},{"g":8,"v":0.017,"x":6,"y":0.72,"y2":0.6},{"g":8,"v":0.017,"x":6.33,"y":0.71,"y2":0.71},
{"g":9,"v":0.02,"x":2.04,"y":0.62,"y2":0.35},{"g":9,"v":0.02,"x":3,"y":0.64,"y2":0.36},{"g":9,"v":0.02,"x":4,"y":0.64,"y2":0.36},{"g":9,"v":0.02,"x":4.89,"y":0.58,"y2":0.58},
{"g":10,"v":0.024,"x":2.04,"y":0.6,"y2":0.36},{"g":10,"v":0.024,"x":3,"y":0.61,"y2":0.37},{"g":10,"v":0.024,"x":4.33,"y":0.55,"y2":0.55},
{"g":11,"v":0.028,"x":2.04,"y":0.59,"y2":0.37},{"g":11,"v":0.028,"x":3,"y":0.59,"y2":0.39},{"g":11,"v":0.028,"x":3.83,"y":0.52,"y2":0.52},
{"g":12,"v":0.031,"x":2.04,"y":0.58,"y2":0.38},{"g":12,"v":0.031,"x":3.56,"y":0.49,"y2":0.49},
{"g":13,"v":0.035,"x":2.04,"y":0.57,"y2":0.39},{"g":13,"v":0.035,"x":3.31,"y":0.48,"y2":0.48},
{"g":14,"v":0.039,"x":2.04,"y":0.56,"y2":0.4},{"g":14,"v":0.039,"x":3.1,"y":0.47,"y2":0.47},
{"g":15,"v":0.043,"x":2.04,"y":0.55,"y2":0.41},{"g":15,"v":0.043,"x":2.88,"y":0.47,"y2":0.47},
{"g":16,"v":0.046,"x":2.04,"y":0.54,"y2":0.42},{"g":16,"v":0.046,"x":2.68,"y":0.47,"y2":0.47},
{"g":17,"v":0.05,"x":2.04,"y":0.53,"y2":0.44},{"g":17,"v":0.05,"x":2.5,"y":0.47,"y2":0.47},
{"g":18,"v":0.017,"x":2.04,"y":-0.34,"y2":-0.64},{"g":18,"v":0.017,"x":3,"y":-0.36,"y2":-0.66},{"g":18,"v":0.017,"x":4,"y":-0.32,"y2":-0.72},{"g":18,"v":0.017,"x":6,"y":-0.45,"y2":-0.8},{"g":18,"v":0.017,"x":8,"y":-0.68,"y2":-0.81},{"g":18,"v":0.017,"x":8.32,"y":-0.73,"y2":-0.73},
{"g":19,"v":0.02,"x":2.04,"y":-0.35,"y2":-0.62},{"g":19,"v":0.02,"x":3.5,"y":-0.4,"y2":-0.66},{"g":19,"v":0.02,"x":5,"y":-0.45,"y2":-0.68},{"g":19,"v":0.02,"x":6,"y":-0.54,"y2":-0.68},{"g":19,"v":0.02,"x":6.44,"y":-0.61,"y2":-0.61},
{"g":20,"v":0.024,"x":2.04,"y":-0.36,"y2":-0.61},{"g":20,"v":0.024,"x":4,"y":-0.38,"y2":-0.65},{"g":20,"v":0.024,"x":5.32,"y":-0.56,"y2":-0.56},
{"g":21,"v":0.028,"x":2.04,"y":-0.36,"y2":-0.6},{"g":21,"v":0.028,"x":3.5,"y":-0.38,"y2":-0.62},{"g":21,"v":0.028,"x":4.71,"y":-0.53,"y2":-0.53},
{"g":22,"v":0.031,"x":2.04,"y":-0.37,"y2":-0.6},{"g":22,"v":0.031,"x":4.19,"y":-0.49,"y2":-0.49},
{"g":23,"v":0.035,"x":2.04,"y":-0.38,"y2":-0.59},{"g":23,"v":0.035,"x":3.85,"y":-0.47,"y2":-0.47},
{"g":24,"v":0.039,"x":2.04,"y":-0.39,"y2":-0.58},{"g":24,"v":0.039,"x":3.56,"y":-0.46,"y2":-0.46},
{"g":25,"v":0.043,"x":2.04,"y":-0.4,"y2":-0.57},{"g":25,"v":0.043,"x":3.29,"y":-0.46,"y2":-0.46},
{"g":26,"v":0.046,"x":2.04,"y":-0.41,"y2":-0.56},{"g":26,"v":0.046,"x":3.07,"y":-0.46,"y2":-0.46},
{"g":27,"v":0.05,"x":2.04,"y":-0.42,"y2":-0.55},{"g":27,"v":0.05,"x":2.84,"y":-0.46,"y2":-0.46},
{"g":28,"v":0.054,"x":2.04,"y":-0.44,"y2":-0.53},{"g":28,"v":0.054,"x":2.59,"y":-0.46,"y2":-0.46},
{"g":29,"v":0.009,"x":4.3,"y":0.3,"y2":0.3},{"g":29,"v":0.009,"x":5,"y":0.42,"y2":0.26},{"g":29,"v":0.009,"x":6,"y":0.58,"y2":0.36},{"g":29,"v":0.009,"x":8,"y":0.62,"y2":0.42},{"g":29,"v":0.009,"x":9.98,"y":0.67,"y2":0.45},
{"g":30,"v":0.006,"x":5.4,"y":0.37,"y2":0.37},{"g":30,"v":0.006,"x":6,"y":0.46,"y2":0.4},{"g":30,"v":0.006,"x":8,"y":0.55,"y2":0.5},{"g":30,"v":0.006,"x":9.98,"y":0.6,"y2":0.5},
{"g":31,"v":0.009,"x":3.9,"y":-0.2,"y2":-0.2},{"g":31,"v":0.009,"x":5,"y":-0.2,"y2":-0.3},{"g":31,"v":0.009,"x":6,"y":-0.3,"y2":-0.38},{"g":31,"v":0.009,"x":7,"y":-0.35,"y2":-0.4},{"g":31,"v":0.009,"x":7.6,"y":-0.42,"y2":-0.42},
{"g":32,"v":0.009,"x":8.5,"y":-0.44,"y2":-0.44},{"g":32,"v":0.009,"x":9.98,"y":-0.42,"y2":-0.48},
{"g":33,"v":0.02,"x":2.04,"y":0.32,"y2":-0.32},{"g":33,"v":0.02,"x":4,"y":0.16,"y2":-0.15},{"g":33,"v":0.02,"x":6,"y":0.22,"y2":-0.17},{"g":33,"v":0.02,"x":8,"y":0.22,"y2":-0.17},{"g":33,"v":0.02,"x":9.98,"y":0.22,"y2":-0.17},
{"g":34,"v":0.024,"x":2.04,"y":0.3,"y2":-0.3},{"g":34,"v":0.024,"x":4,"y":0.08,"y2":-0.08},{"g":34,"v":0.024,"x":6,"y":0.125,"y2":-0.07},{"g":34,"v":0.024,"x":8,"y":0.125,"y2":-0.06},{"g":34,"v":0.024,"x":9.98,"y":0.06,"y2":0.01},
{"g":35,"v":0.028,"x":2.04,"y":0.29,"y2":-0.29},{"g":35,"v":0.028,"x":3,"y":0.2,"y2":-0.2},{"g":35,"v":0.028,"x":4,"y":0.03,"y2":0.03},
{"g":36,"v":0.031,"x":2.04,"y":0.285,"y2":-0.285},{"g":36,"v":0.031,"x":3,"y":0.15,"y2":-0.15},{"g":36,"v":0.031,"x":3.65,"y":0.03,"y2":0.03},
{"g":37,"v":0.035,"x":2.04,"y":0.28,"y2":-0.28},{"g":37,"v":0.035,"x":3,"y":0.1,"y2":-0.1},{"g":37,"v":0.035,"x":3.43,"y":0.03,"y2":0.03},
{"g":38,"v":0.039,"x":2.04,"y":0.275,"y2":-0.275},{"g":38,"v":0.039,"x":3,"y":0.07,"y2":-0.07},{"g":38,"v":0.039,"x":3.27,"y":0.03,"y2":0.03},
{"g":39,"v":0.043,"x":2.04,"y":0.27,"y2":-0.27},{"g":39,"v":0.043,"x":3.12,"y":0.03,"y2":0.03},
{"g":40,"v":0.046,"x":2.04,"y":0.265,"y2":-0.265},{"g":40,"v":0.046,"x":3.01,"y":0.02,"y2":0.02},
{"g":41,"v":0.05,"x":2.04,"y":0.26,"y2":-0.26},{"g":41,"v":0.05,"x":2.88,"y":0.02,"y2":0.02},
{"g":42,"v":0.054,"x":2.04,"y":0.25,"y2":-0.25},{"g":42,"v":0.054,"x":2.77,"y":0.01,"y2":0.01},
{"g":43,"v":0.061,"x":2.04,"y":0.23,"y2":-0.23},{"g":43,"v":0.061,"x":2.6,"y":0.01,"y2":0.01},
{"g":44,"v":0.068,"x":2.04,"y":0.21,"y2":-0.21},{"g":44,"v":0.068,"x":2.5,"y":0,"y2":0},
{"g":45,"v":0.076,"x":2.04,"y":0.19,"y2":-0.19},{"g":45,"v":0.076,"x":2.4,"y":0,"y2":0},
{"g":46,"v":0.091,"x":2.04,"y":0.155,"y2":-0.155},{"g":46,"v":0.091,"x":2.3,"y":0,"y2":0},
{"g":47,"v":0.105,"x":2.04,"y":0.1,"y2":-0.1},{"g":47,"v":0.105,"x":2.2,"y":0,"y2":0},
{"g":48,"v":0.12,"x":2.04,"y":0.055,"y2":-0.055},{"g":48,"v":0.12,"x":2.14,"y":0,"y2":0},
{"g":49,"v":0.135,"x":2.04,"y":0.03,"y2":-0.03},{"g":49,"v":0.135,"x":2.1,"y":0,"y2":0}
],
"e":[
{"g":1,"v":0,"x":-1.96,"y":2.1,"y2":-2.1},{"g":1,"v":0,"x":-1.04,"y":2.1,"y2":-2.1},
{"g":2,"v":0.006,"x":-1.68,"y":0,"y2":0},{"g":2,"v":0.006,"x":-1.66,"y":0.14,"y2":-0.14},{"g":2,"v":0.006,"x":-1.6,"y":0.41,"y2":-0.41},{"g":2,"v":0.006,"x":-1.5,"y":0.6,"y2":-0.6},{"g":2,"v":0.006,"x":-1.4,"y":0.78,"y2":-0.78},{"g":2,"v":0.006,"x":-1.3,"y":0.9,"y2":-0.9},{"g":2,"v":0.006,"x":-1.2,"y":1,"y2":-1},{"g":2,"v":0.006,"x":-1.04,"y":1.12,"y2":-1.14},
{"g":3,"v":0.009,"x":-1.243,"y":0,"y2":0},{"g":3,"v":0.009,"x":-1.22,"y":0.13,"y2":-0.13},{"g":3,"v":0.009,"x":-1.15,"y":0.33,"y2":-0.33},{"g":3,"v":0.009,"x":-1.04,"y":0.56,"y2":-0.57}
],
"f":[
{"g":1,"v":0,"x":-1.96,"y":2.1,"y2":-2.1},{"g":1,"v":0,"x":-1.04,"y":2.1,"y2":-2.1},
{"g":2,"v":0.006,"x":-1.2,"y":0,"y2":0},{"g":2,"v":0.006,"x":-1.17,"y":0.12,"y2":-0.12},{"g":2,"v":0.006,"x":-1.1,"y":0.33,"y2":-0.33},{"g":2,"v":0.006,"x":-1.04,"y":0.47,"y2":-0.47}
],
"cb":[
{"lo":0,"hi":0.0037,"v":0},{"lo":0.0037,"hi":0.0074,"v":0.006},{"lo":0.0074,"hi":0.0111,"v":0.009},{"lo":0.0111,"hi":0.0148,"v":0.013},{"lo":0.0148,"hi":0.0185,"v":0.017},{"lo":0.0185,"hi":0.0222,"v":0.02},{"lo":0.0222,"hi":0.0259,"v":0.024},{"lo":0.0259,"hi":0.0296,"v":0.028},{"lo":0.0296,"hi":0.0333,"v":0.031},{"lo":0.0333,"hi":0.037,"v":0.035},
{"lo":0.037,"hi":0.0407,"v":0.039},{"lo":0.0407,"hi":0.0444,"v":0.043},{"lo":0.0444,"hi":0.0481,"v":0.046},{"lo":0.0481,"hi":0.0518,"v":0.05},{"lo":0.0518,"hi":0.0555,"v":0.054},{"lo":0.0555,"hi":0.0592,"v":0.057},{"lo":0.0592,"hi":0.0629,"v":0.061},{"lo":0.0629,"hi":0.0666,"v":0.065},{"lo":0.0666,"hi":0.0703,"v":0.068},{"lo":0.0703,"hi":0.074,"v":0.072},
{"lo":0.074,"hi":0.0777,"v":0.076},{"lo":0.0777,"hi":0.0814,"v":0.08},{"lo":0.0814,"hi":0.0851,"v":0.083},{"lo":0.0851,"hi":0.0888,"v":0.087},{"lo":0.0888,"hi":0.0925,"v":0.091},{"lo":0.0925,"hi":0.0962,"v":0.094},{"lo":0.0962,"hi":0.0999,"v":0.098},{"lo":0.0999,"hi":0.1036,"v":0.102},{"lo":0.1036,"hi":0.1073,"v":0.105},{"lo":0.1073,"hi":0.111,"v":0.109},
{"lo":0.111,"hi":0.1147,"v":0.113},{"lo":0.1147,"hi":0.1184,"v":0.117},{"lo":0.1184,"hi":0.1221,"v":0.12},{"lo":0.1221,"hi":0.1258,"v":0.124},{"lo":0.1258,"hi":0.1295,"v":0.128},{"lo":0.1295,"hi":0.1332,"v":0.131},{"lo":0.1332,"hi":0.1369,"v":0.135},{"lo":0.1369,"hi":0.1406,"v":0.139},{"lo":0.1406,"hi":0.1443,"v":0.142},{"lo":0.1443,"hi":0.148,"v":0.146},
{"lo":0.148,"hi":0.1517,"v":0.15},{"lo":0.1517,"hi":0.1554,"v":0.154},{"lo":0.1554,"hi":0.1591,"v":0.157},{"lo":0.1591,"hi":0.1628,"v":0.161},{"lo":0.1628,"hi":0.1665,"v":0.165},{"lo":0.1665,"hi":0.1702,"v":0.168},{"lo":0.1702,"hi":0.1739,"v":0.172},{"lo":0.1739,"hi":0.1776,"v":0.176},{"lo":0.1776,"hi":0.1813,"v":0.179},{"lo":0.1813,"hi":0.185,"v":0.183}
]
},
"hconcat":[
{"vconcat":[
{"vconcat":[
{"vconcat":[{"width":1268,"height":579,"resolve":{"axis":{"x":"independent","y":"independent"}},"layer":[
{"data":{"name":"a"},"mark":{"type":"area","clip":true,"interpolate":"monotone","stroke":"#ffffff","strokeOpacity":0.08,"strokeWidth":1},"encoding":{"x":{"field":"x","type":"quantitative","scale":{"domain":[2.04,9.98],"nice":false},"axis":{"orient":"bottom","values":[3,4,5,6,7,8,9],"labels":false,"title":null,"zindex":1}},"y":{"field":"y","type":"quantitative","stack":null,"scale":{"domain":[-1.96,1.96],"nice":false},"axis":{"orient":"left","values":[-1.5,-1,-0.5,0,0.5,1,1.5],"format":".1f","labelPadding":37,"title":"y/D [-]","titleFontStyle":"italic","titlePadding":22,"zindex":1}},"y2":{"field":"y2"},"color":{"field":"v","type":"quantitative","legend":null,"scale":{"domain":[0,0.0185,0.037,0.055,0.074,0.0925,0.111,0.13,0.148,0.166,0.185],"range":["#032d90","#2265ad","#2e84bf","#4bb0cf","#85d9d6","#c0eac3","#cfcf7d","#ba9d42","#a87526","#8f4a0d","#7a1700"]}},"detail":{"field":"g"}}},
{"data":{"name":"gx"},"mark":{"type":"rule","color":"#c0c0c0","opacity":0.45,"strokeWidth":2.5,"strokeDash":[3,14]},"encoding":{"x":{"field":"x","type":"quantitative","axis":null}}},
{"data":{"name":"gy"},"mark":{"type":"rule","color":"#c0c0c0","opacity":0.45,"strokeWidth":2.5,"strokeDash":[3,14]},"encoding":{"y":{"field":"y","type":"quantitative","axis":null}}},
{"data":{"values":[{"x":2.347,"x2":8.74,"y":1.857,"y2":1.328}]},"mark":{"type":"rect","fill":"#d0d8eb","stroke":"#06112e","strokeWidth":5,"cornerRadius":10},"encoding":{"x":{"field":"x","type":"quantitative","axis":null},"x2":{"field":"x2"},"y":{"field":"y","type":"quantitative","axis":null},"y2":{"field":"y2"}}},
{"data":{"values":[{"x":2.44,"y":1.59,"t":"(a) Blondel and Cathelain (2020) - Org."}]},"mark":{"type":"text","align":"left","baseline":"middle","font":"DejaVu Serif","fontSize":50,"color":"black"},"encoding":{"x":{"field":"x","type":"quantitative","axis":null},"y":{"field":"y","type":"quantitative","axis":null},"text":{"field":"t"}}},
{"data":{"values":[{"x":3,"y":0}]},"mark":{"type":"point","opacity":0},"encoding":{"x":{"field":"x","type":"quantitative","axis":{"orient":"top","values":[3,4,5,6,7,8,9],"labels":false,"title":null,"zindex":1}},"y":{"field":"y","type":"quantitative","axis":{"orient":"right","values":[-1.5,-1,-0.5,0,0.5,1,1.5],"labels":false,"title":null,"zindex":1}}}}
]}]},
{"vconcat":[{"width":1268.1,"height":579,"resolve":{"axis":{"x":"independent","y":"independent"}},"layer":[
{"data":{"name":"b"},"mark":{"type":"area","clip":true,"interpolate":"monotone","stroke":"#ffffff","strokeOpacity":0.08,"strokeWidth":1},"encoding":{"x":{"field":"x","type":"quantitative","scale":{"domain":[2.04,9.98],"nice":false},"axis":{"orient":"bottom","values":[3,4,5,6,7,8,9],"labels":false,"title":null,"zindex":1}},"y":{"field":"y","type":"quantitative","stack":null,"scale":{"domain":[-1.96,1.96],"nice":false},"axis":{"orient":"left","values":[-1.5,-1,-0.5,0,0.5,1,1.5],"format":".1f","labelPadding":37,"title":"y/D [-]","titleFontStyle":"italic","titlePadding":22,"zindex":1}},"y2":{"field":"y2"},"color":{"field":"v","type":"quantitative","legend":null,"scale":{"domain":[0,0.0185,0.037,0.055,0.074,0.0925,0.111,0.13,0.148,0.166,0.185],"range":["#032d90","#2265ad","#2e84bf","#4bb0cf","#85d9d6","#c0eac3","#cfcf7d","#ba9d42","#a87526","#8f4a0d","#7a1700"]}},"detail":{"field":"g"}}},
{"data":{"name":"gx"},"mark":{"type":"rule","color":"#c0c0c0","opacity":0.45,"strokeWidth":2.5,"strokeDash":[3,14]},"encoding":{"x":{"field":"x","type":"quantitative","axis":null}}},
{"data":{"name":"gy"},"mark":{"type":"rule","color":"#c0c0c0","opacity":0.45,"strokeWidth":2.5,"strokeDash":[3,14]},"encoding":{"y":{"field":"y","type":"quantitative","axis":null}}},
{"data":{"values":[{"x":2.347,"x2":9.32,"y":1.857,"y2":1.328}]},"mark":{"type":"rect","fill":"#d0d8eb","stroke":"#06112e","strokeWidth":5,"cornerRadius":10},"encoding":{"x":{"field":"x","type":"quantitative","axis":null},"x2":{"field":"x2"},"y":{"field":"y","type":"quantitative","axis":null},"y2":{"field":"y2"}}},
{"data":{"values":[{"x":2.44,"y":1.59,"t":"(b) Blondel and Cathelain (2020) - Recalib."}]},"mark":{"type":"text","align":"left","baseline":"middle","font":"DejaVu Serif","fontSize":50,"color":"black"},"encoding":{"x":{"field":"x","type":"quantitative","axis":null},"y":{"field":"y","type":"quantitative","axis":null},"text":{"field":"t"}}},
{"data":{"values":[{"x":3,"y":0}]},"mark":{"type":"point","opacity":0},"encoding":{"x":{"field":"x","type":"quantitative","axis":{"orient":"top","values":[3,4,5,6,7,8,9],"labels":false,"title":null,"zindex":1}},"y":{"field":"y","type":"quantitative","axis":{"orient":"right","values":[-1.5,-1,-0.5,0,0.5,1,1.5],"labels":false,"title":null,"zindex":1}}}}
]}]},
{"vconcat":[{"width":1267.9,"height":579,"resolve":{"axis":{"x":"independent","y":"independent"}},"layer":[
{"data":{"name":"c"},"mark":{"type":"area","clip":true,"interpolate":"monotone","stroke":"#ffffff","strokeOpacity":0.08,"strokeWidth":1},"encoding":{"x":{"field":"x","type":"quantitative","scale":{"domain":[2.04,9.98],"nice":false},"axis":{"orient":"bottom","values":[3,4,5,6,7,8,9],"labels":false,"title":null,"zindex":1}},"y":{"field":"y","type":"quantitative","stack":null,"scale":{"domain":[-1.96,1.96],"nice":false},"axis":{"orient":"left","values":[-1.5,-1,-0.5,0,0.5,1,1.5],"format":".1f","labelPadding":37,"title":"y/D [-]","titleFontStyle":"italic","titlePadding":22,"zindex":1}},"y2":{"field":"y2"},"color":{"field":"v","type":"quantitative","legend":null,"scale":{"domain":[0,0.0185,0.037,0.055,0.074,0.0925,0.111,0.13,0.148,0.166,0.185],"range":["#032d90","#2265ad","#2e84bf","#4bb0cf","#85d9d6","#c0eac3","#cfcf7d","#ba9d42","#a87526","#8f4a0d","#7a1700"]}},"detail":{"field":"g"}}},
{"data":{"name":"gx"},"mark":{"type":"rule","color":"#c0c0c0","opacity":0.45,"strokeWidth":2.5,"strokeDash":[3,14]},"encoding":{"x":{"field":"x","type":"quantitative","axis":null}}},
{"data":{"name":"gy"},"mark":{"type":"rule","color":"#c0c0c0","opacity":0.45,"strokeWidth":2.5,"strokeDash":[3,14]},"encoding":{"y":{"field":"y","type":"quantitative","axis":null}}},
{"data":{"values":[{"x":2.347,"x2":7.475,"y":1.857,"y2":1.328}]},"mark":{"type":"rect","fill":"#d0d8eb","stroke":"#06112e","strokeWidth":5,"cornerRadius":10},"encoding":{"x":{"field":"x","type":"quantitative","axis":null},"x2":{"field":"x2"},"y":{"field":"y","type":"quantitative","axis":null},"y2":{"field":"y2"}}},
{"data":{"values":[{"x":2.44,"y":1.59,"t":"(c) Nygaard et al. (2022) - Org."}]},"mark":{"type":"text","align":"left","baseline":"middle","font":"DejaVu Serif","fontSize":50,"color":"black"},"encoding":{"x":{"field":"x","type":"quantitative","axis":null},"y":{"field":"y","type":"quantitative","axis":null},"text":{"field":"t"}}},
{"data":{"values":[{"x":3,"y":0}]},"mark":{"type":"point","opacity":0},"encoding":{"x":{"field":"x","type":"quantitative","axis":{"orient":"top","values":[3,4,5,6,7,8,9],"labels":false,"title":null,"zindex":1}},"y":{"field":"y","type":"quantitative","axis":{"orient":"right","values":[-1.5,-1,-0.5,0,0.5,1,1.5],"labels":false,"title":null,"zindex":1}}}}
]}]},
{"vconcat":[{"width":1268.2,"height":579,"resolve":{"axis":{"x":"independent","y":"independent"}},"layer":[
{"data":{"name":"d"},"mark":{"type":"area","clip":true,"interpolate":"monotone","stroke":"#ffffff","strokeOpacity":0.08,"strokeWidth":1},"encoding":{"x":{"field":"x","type":"quantitative","scale":{"domain":[2.04,9.98],"nice":false},"axis":{"orient":"bottom","values":[3,4,5,6,7,8,9],"format":"d","labelPadding":34,"title":"x/D","titlePadding":34,"zindex":1}},"y":{"field":"y","type":"quantitative","stack":null,"scale":{"domain":[-1.96,1.96],"nice":false},"axis":{"orient":"left","values":[-1.5,-1,-0.5,0,0.5,1,1.5],"format":".1f","labelPadding":37,"title":"y/D [-]","titleFontStyle":"italic","titlePadding":22,"zindex":1}},"y2":{"field":"y2"},"color":{"field":"v","type":"quantitative","legend":null,"scale":{"domain":[0,0.0185,0.037,0.055,0.074,0.0925,0.111,0.13,0.148,0.166,0.185],"range":["#032d90","#2265ad","#2e84bf","#4bb0cf","#85d9d6","#c0eac3","#cfcf7d","#ba9d42","#a87526","#8f4a0d","#7a1700"]}},"detail":{"field":"g"}}},
{"data":{"name":"gx"},"mark":{"type":"rule","color":"#c0c0c0","opacity":0.45,"strokeWidth":2.5,"strokeDash":[3,14]},"encoding":{"x":{"field":"x","type":"quantitative","axis":null}}},
{"data":{"name":"gy"},"mark":{"type":"rule","color":"#c0c0c0","opacity":0.45,"strokeWidth":2.5,"strokeDash":[3,14]},"encoding":{"y":{"field":"y","type":"quantitative","axis":null}}},
{"data":{"values":[{"x":2.347,"x2":8.08,"y":1.857,"y2":1.328}]},"mark":{"type":"rect","fill":"#d0d8eb","stroke":"#06112e","strokeWidth":5,"cornerRadius":10},"encoding":{"x":{"field":"x","type":"quantitative","axis":null},"x2":{"field":"x2"},"y":{"field":"y","type":"quantitative","axis":null},"y2":{"field":"y2"}}},
{"data":{"values":[{"x":2.44,"y":1.59,"t":"(d) Nygaard et al. (2022) - Recalib."}]},"mark":{"type":"text","align":"left","baseline":"middle","font":"DejaVu Serif","fontSize":50,"color":"black"},"encoding":{"x":{"field":"x","type":"quantitative","axis":null},"y":{"field":"y","type":"quantitative","axis":null},"text":{"field":"t"}}},
{"data":{"values":[{"x":3,"y":0}]},"mark":{"type":"point","opacity":0},"encoding":{"x":{"field":"x","type":"quantitative","axis":{"orient":"top","values":[3,4,5,6,7,8,9],"labels":false,"title":null,"zindex":1}},"y":{"field":"y","type":"quantitative","axis":{"orient":"right","values":[-1.5,-1,-0.5,0,0.5,1,1.5],"labels":false,"title":null,"zindex":1}}}}
]}]}
],"spacing":23.5,"bounds":"full"},
{"hconcat":[
{"width":627,"height":579,"resolve":{"axis":{"x":"independent","y":"independent"}},"layer":[
{"data":{"name":"e"},"mark":{"type":"area","clip":true,"interpolate":"monotone","stroke":"#ffffff","strokeOpacity":0.08,"strokeWidth":1},"encoding":{"x":{"field":"x","type":"quantitative","scale":{"domain":[-1.96,-1.04],"nice":false},"axis":{"orient":"bottom","values":[-1.8,-1.6,-1.4,-1.2],"format":".1f","labelPadding":33,"title":"x/D [-]","titleFontStyle":"italic","titlePadding":24,"zindex":1}},"y":{"field":"y","type":"quantitative","stack":null,"scale":{"domain":[-1.96,1.96],"nice":false},"axis":{"orient":"left","values":[-1.5,-1,-0.5,0,0.5,1,1.5],"format":".1f","labelPadding":37,"title":"y/D [-]","titleFontStyle":"italic","titlePadding":22,"zindex":1}},"y2":{"field":"y2"},"color":{"field":"v","type":"quantitative","legend":null,"scale":{"domain":[0,0.0185,0.037,0.055,0.074,0.0925,0.111,0.13,0.148,0.166,0.185],"range":["#032d90","#2265ad","#2e84bf","#4bb0cf","#85d9d6","#c0eac3","#cfcf7d","#ba9d42","#a87526","#8f4a0d","#7a1700"]}},"detail":{"field":"g"}}},
{"data":{"name":"gz"},"mark":{"type":"rule","color":"#c0c0c0","opacity":0.35,"strokeWidth":2.5,"strokeDash":[3,14]},"encoding":{"x":{"field":"x","type":"quantitative","axis":null}}},
{"data":{"name":"gy"},"mark":{"type":"rule","color":"#c0c0c0","opacity":0.35,"strokeWidth":2.5,"strokeDash":[3,14]},"encoding":{"y":{"field":"y","type":"quantitative","axis":null}}},
{"data":{"values":[{"x":-1.934,"x2":-1.248,"y":1.86,"y2":0.95}]},"mark":{"type":"rect","fill":"#d0d8eb","stroke":"#06112e","strokeWidth":5,"cornerRadius":10},"encoding":{"x":{"field":"x","type":"quantitative","axis":null},"x2":{"field":"x2"},"y":{"field":"y","type":"quantitative","axis":null},"y2":{"field":"y2"}}},
{"data":{"values":[{"x":-1.913,"y":1.62,"t":"(e) Forsting et al."},{"x":-1.793,"y":1.23,"t":"(2023) - Org."}]},"mark":{"type":"text","align":"left","baseline":"middle","font":"DejaVu Serif","fontSize":50,"color":"black"},"encoding":{"x":{"field":"x","type":"quantitative","axis":null},"y":{"field":"y","type":"quantitative","axis":null},"text":{"field":"t"}}},
{"data":{"values":[{"x":-1.8,"y":0}]},"mark":{"type":"point","opacity":0},"encoding":{"x":{"field":"x","type":"quantitative","axis":{"orient":"top","values":[-1.8,-1.6,-1.4,-1.2],"labels":false,"title":null,"zindex":1}},"y":{"field":"y","type":"quantitative","axis":{"orient":"right","values":[-1.5,-1,-0.5,0,0.5,1,1.5],"labels":false,"title":null,"zindex":1}}}}
]},
{"width":627,"height":579,"resolve":{"axis":{"x":"independent","y":"independent"}},"layer":[
{"data":{"name":"f"},"mark":{"type":"area","clip":true,"interpolate":"monotone","stroke":"#ffffff","strokeOpacity":0.08,"strokeWidth":1},"encoding":{"x":{"field":"x","type":"quantitative","scale":{"domain":[-1.96,-1.04],"nice":false},"axis":{"orient":"bottom","values":[-1.8,-1.6,-1.4,-1.2],"format":".1f","labelPadding":33,"title":"x/D [-]","titleFontStyle":"italic","titlePadding":24,"zindex":1}},"y":{"field":"y","type":"quantitative","stack":null,"scale":{"domain":[-1.96,1.96],"nice":false},"axis":{"orient":"left","values":[-1.5,-1,-0.5,0,0.5,1,1.5],"labels":false,"title":null,"zindex":1}},"y2":{"field":"y2"},"color":{"field":"v","type":"quantitative","legend":null,"scale":{"domain":[0,0.0185,0.037,0.055,0.074,0.0925,0.111,0.13,0.148,0.166,0.185],"range":["#032d90","#2265ad","#2e84bf","#4bb0cf","#85d9d6","#c0eac3","#cfcf7d","#ba9d42","#a87526","#8f4a0d","#7a1700"]}},"detail":{"field":"g"}}},
{"data":{"name":"gz"},"mark":{"type":"rule","color":"#c0c0c0","opacity":0.35,"strokeWidth":2.5,"strokeDash":[3,14]},"encoding":{"x":{"field":"x","type":"quantitative","axis":null}}},
{"data":{"name":"gy"},"mark":{"type":"rule","color":"#c0c0c0","opacity":0.35,"strokeWidth":2.5,"strokeDash":[3,14]},"encoding":{"y":{"field":"y","type":"quantitative","axis":null}}},
{"data":{"values":[{"x":-1.934,"x2":-1.162,"y":1.86,"y2":0.95}]},"mark":{"type":"rect","fill":"#d0d8eb","stroke":"#06112e","strokeWidth":5,"cornerRadius":10},"encoding":{"x":{"field":"x","type":"quantitative","axis":null},"x2":{"field":"x2"},"y":{"field":"y","type":"quantitative","axis":null},"y2":{"field":"y2"}}},
{"data":{"values":[{"x":-1.913,"y":1.62,"t":"(f) Forsting et al."},{"x":-1.802,"y":1.23,"t":"(2023) - Recalib."}]},"mark":{"type":"text","align":"left","baseline":"middle","font":"DejaVu Serif","fontSize":50,"color":"black"},"encoding":{"x":{"field":"x","type":"quantitative","axis":null},"y":{"field":"y","type":"quantitative","axis":null},"text":{"field":"t"}}},
{"data":{"values":[{"x":-1.8,"y":0}]},"mark":{"type":"point","opacity":0},"encoding":{"x":{"field":"x","type":"quantitative","axis":{"orient":"top","values":[-1.8,-1.6,-1.4,-1.2],"labels":false,"title":null,"zindex":1}},"y":{"field":"y","type":"quantitative","axis":{"orient":"right","values":[-1.5,-1,-0.5,0,0.5,1,1.5],"labels":false,"title":null,"zindex":1}}}}
]}
],"spacing":13,"bounds":"flush"}
],"spacing":14.5,"bounds":"full"},
{"width":69,"height":2689,"data":{"name":"cb"},"layer":[
{"mark":{"type":"rect"},"encoding":{"y":{"field":"lo","type":"quantitative","scale":{"domain":[0,0.185],"nice":false,"range":[2689,449]},"axis":{"orient":"right","values":[0,0.037,0.074,0.111,0.148,0.185],"format":".3f","tickSize":-16,"labelPadding":34,"domain":false,"title":"RMSE [ms⁻¹]","titleAngle":270,"titleFontSize":57,"titlePadding":66,"zindex":1}},"y2":{"field":"hi"},"color":{"field":"v","type":"quantitative","legend":null,"scale":{"domain":[0,0.0185,0.037,0.055,0.074,0.0925,0.111,0.13,0.148,0.166,0.185],"range":["#032d90","#2265ad","#2e84bf","#4bb0cf","#85d9d6","#c0eac3","#cfcf7d","#ba9d42","#a87526","#8f4a0d","#7a1700"]}}}},
{"mark":{"type":"rule","color":"black","strokeWidth":2},"encoding":{"x":{"datum":0.885,"type":"quantitative","scale":{"domain":[0,1],"nice":false},"axis":null},"x2":{"datum":1},"y":{"field":"hi","type":"quantitative"}}},
{"data":{"values":[{"lo":0,"hi":0.185}]},"mark":{"type":"rect","fill":null,"stroke":"black","strokeWidth":5},"encoding":{"y":{"field":"lo","type":"quantitative"},"y2":{"field":"hi"}}}
]}
],"spacing":59,"bounds":"full"}
